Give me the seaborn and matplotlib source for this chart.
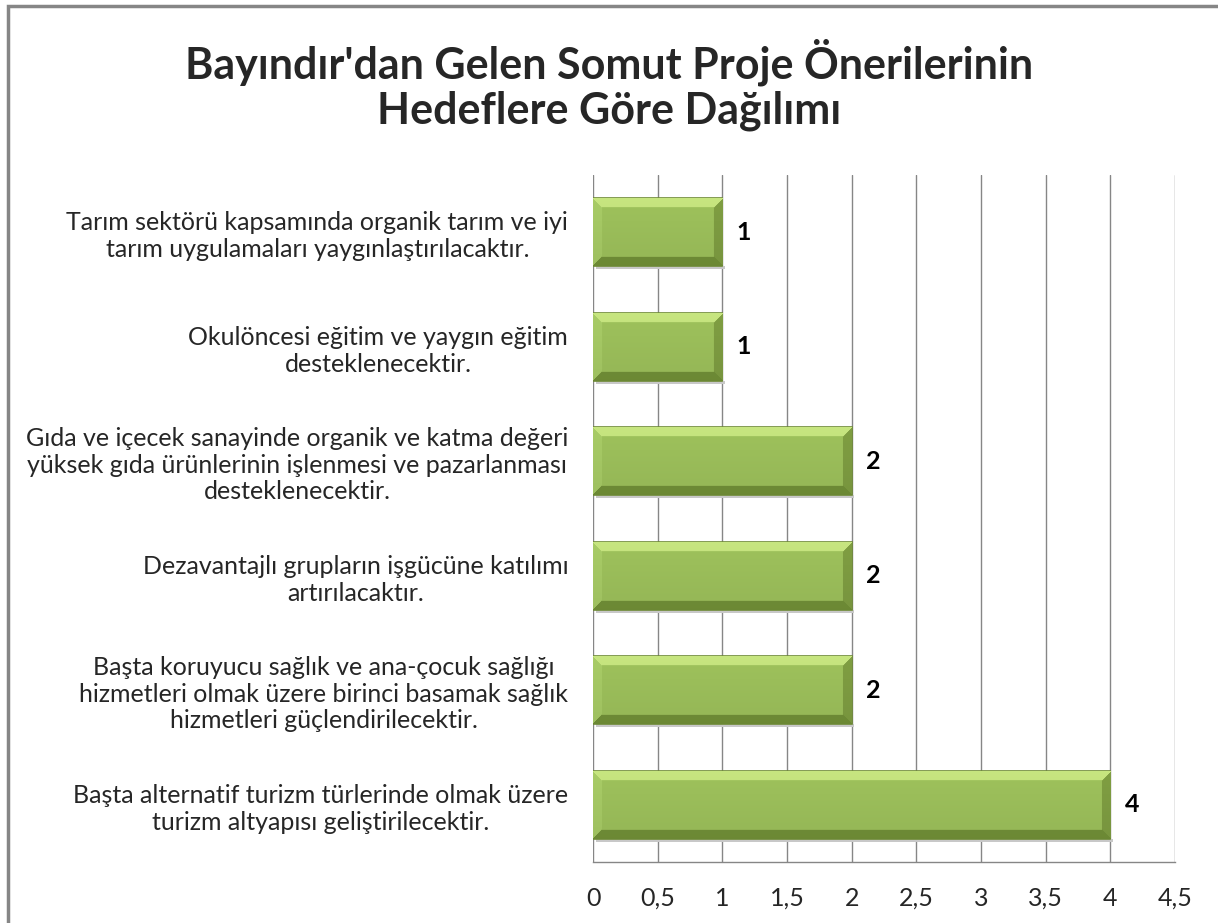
import matplotlib
matplotlib.use("Agg")
import matplotlib.pyplot as plt
import matplotlib.patches as mpatches
import seaborn as sns
import pandas as pd
import numpy as np

# chart data
hedefler = [
    "Tarım sektörü kapsamında organik tarım ve iyi\ntarım uygulamaları yaygınlaştırılacaktır.",
    "Okulöncesi eğitim ve yaygın eğitim\ndesteklenecektir.",
    "Gıda ve içecek sanayinde organik ve katma değeri\nyüksek gıda ürünlerinin işlenmesi ve pazarlanması\ndesteklenecektir.",
    "Dezavantajlı grupların işgücüne katılımı\nartırılacaktır.",
    "Başta koruyucu sağlık ve ana-çocuk sağlığı\nhizmetleri olmak üzere birinci basamak sağlık\nhizmetleri güçlendirilecektir.",
    "Başta alternatif turizm türlerinde olmak üzere\nturizm altyapısı geliştirilecektir.",
]
oneri_sayisi = [1, 1, 2, 2, 2, 4]
x_ticks = [0, 0.5, 1, 1.5, 2, 2.5, 3, 3.5, 4, 4.5]
x_tick_labels = ["0", "0,5", "1", "1,5", "2", "2,5", "3", "3,5", "4", "4,5"]
title = "Bayındır'dan Gelen Somut Proje Önerilerinin\nHedeflere Göre Dağılımı"

df = pd.DataFrame({"hedef": hedefler, "sayi": oneri_sayisi})

sns.set_theme(style="white")
plt.rcParams["font.family"] = ["Lato", "DejaVu Sans"]

fig = plt.figure(figsize=(12.18, 9.23), dpi=100)
ax = fig.add_axes([0.487, 0.0661, 0.4777, 0.7443])

sns.barplot(x="sayi", y="hedef", data=df, color="#9bbb59", width=0.59,
            edgecolor="#6e8a36", linewidth=1.2, saturation=1, ax=ax, zorder=3)


def bevel_image(w_px, h_px, bev=9):
    # bevelled fill: light top, dark bottom/right, mid body
    body = np.array([0.62, 0.76, 0.36])
    top = np.array([0.78, 0.90, 0.50])
    left = np.array([0.66, 0.80, 0.40])
    bottom = np.array([0.45, 0.57, 0.22])
    right = np.array([0.50, 0.62, 0.26])
    img = np.tile(body, (h_px, w_px, 1))
    yy, xx = np.mgrid[0:h_px, 0:w_px]
    dt, db = yy, h_px - 1 - yy
    dl, dr = xx, w_px - 1 - xx
    dmin = np.minimum.reduce([dt, db, dl, dr])
    band = dmin < bev
    sel_t = band & (dt == dmin)
    sel_b = band & (db == dmin) & ~sel_t
    sel_l = band & (dl == dmin) & ~sel_t & ~sel_b
    sel_r = band & ~sel_t & ~sel_b & ~sel_l
    img[sel_t] = top
    img[sel_b] = bottom
    img[sel_l] = left
    img[sel_r] = right
    # soft vertical shading in body
    shade = 1.0 - 0.06 * (yy / h_px)
    img = img * shade[..., None]
    return np.clip(img, 0, 1)


for p in list(ax.patches):
    x0, y0 = p.get_x(), p.get_y()
    w, h = p.get_width(), p.get_height()
    img = bevel_image(int(w * 129), 67)
    ax.imshow(img, extent=(x0, x0 + w, y0 + h, y0), aspect="auto",
              zorder=3.5, interpolation="bilinear")
    # drop shadow
    ax.add_patch(mpatches.Rectangle((x0 + 0.02, y0 + h), w, 0.03,
                                    facecolor="#c8c8c8", edgecolor="none", zorder=2.5))

for i, v in enumerate(oneri_sayisi):
    ax.text(v + 0.11, i, str(v), ha="left", va="center", fontsize=18,
            fontweight="bold", color="black")

ax.set_xlim(0, 4.5)
ax.set_ylim(len(hedefler) - 0.5, -0.5)
ax.set_xticks(x_ticks)
ax.set_xticklabels(x_tick_labels, fontsize=18)
ax.set_xlabel("")
ax.set_ylabel("")
ax.grid(axis="x", color="#868686", linewidth=1, zorder=0)
ax.grid(axis="y", visible=False)
for side in ["top", "right", "left"]:
    ax.spines[side].set_visible(False)
ax.spines["bottom"].set_color("#868686")
ax.spines["bottom"].set_linewidth(1)
ax.tick_params(axis="x", length=0, pad=18)
ax.tick_params(axis="y", length=0, pad=18)
for lbl in ax.get_yticklabels():
    lbl.set_fontsize(18)
    lbl.set_multialignment("center")

fig.text(0.5, 0.908, title, ha="center", va="center", fontsize=31,
         fontweight="bold", linespacing=1.12)

# chart frame
fig.patches.append(mpatches.Rectangle((8 / 1218, -0.05), 1.2, 1 - 6 / 923 + 0.05,
                                      transform=fig.transFigure, fill=False,
                                      edgecolor="#868686", linewidth=2.5))

fig.savefig("out.png", dpi=100)
